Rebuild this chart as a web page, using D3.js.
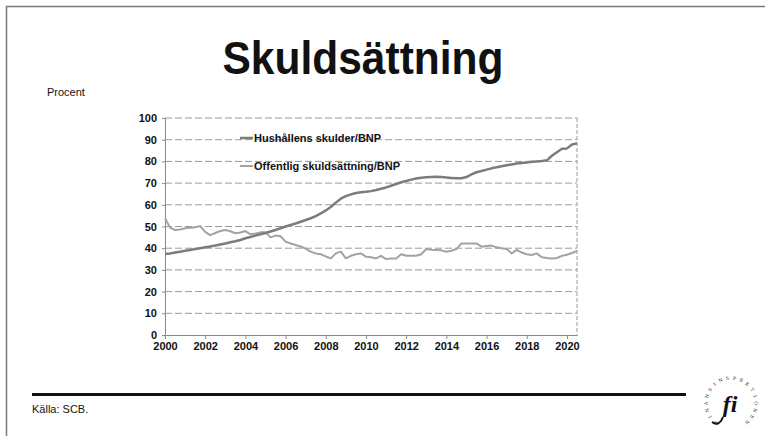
<!DOCTYPE html>
<html><head><meta charset="utf-8">
<script src="https://cdn.jsdelivr.net/npm/d3@7"></script>
<style>html,body{margin:0;padding:0;background:#fff;}svg{display:block;font-family:"Liberation Sans",Arial,sans-serif;}</style>
</head><body>
<script>
// Quarterly observations, 2000 Q1 .. 2020 Q3
const startYear = 2000;
const household = [
 37.3,37.6,38.0,38.4, 38.8,39.2,39.6,40.0, 40.4,40.8,41.2,41.7, 42.2,42.7,43.2,43.8,
 44.6,45.2,45.8,46.4, 47.0,47.7,48.4,49.2, 50.0,50.7,51.4,52.2, 53.0,53.8,54.8,56.0,
 57.4,59.0,61.0,62.8, 64.0,64.8,65.4,65.8, 66.0,66.3,66.8,67.4, 68.0,68.8,69.6,70.4,
 71.0,71.6,72.1,72.5, 72.7,72.8,72.9,72.8, 72.6,72.4,72.2,72.2, 72.8,74.0,75.0,75.6,
 76.2,76.8,77.3,77.8, 78.2,78.6,79.0,79.3, 79.5,79.8,80.0,80.2, 80.5,82.6,84.2,85.8,
 86.0,87.8,88.3];
const publicDebt = [
 53.8,49.5,48.4,48.6, 49.2,49.4,49.6,50.2, 47.5,46.0,47.0,47.9, 48.4,47.8,46.9,47.2,
 47.9,46.4,46.8,47.3, 47.3,45.0,45.8,45.5, 43.0,42.2,41.5,40.8, 39.8,38.4,37.6,37.2,
 36.2,35.3,37.6,38.4, 35.3,36.5,37.2,37.6, 36.1,35.8,35.3,36.5, 35.0,35.2,35.3,37.2,
 36.5,36.5,36.5,37.2, 39.6,39.3,39.2,39.0, 38.4,38.8,39.6,42.2, 42.2,42.2,42.2,40.7,
 41.0,41.2,40.4,40.0, 39.6,37.6,39.2,38.0, 37.2,36.9,37.6,35.8, 35.5,35.3,35.5,36.5,
 37.0,37.8,38.7];
const seriesNames = ["Hushållens skulder/BNP", "Offentlig skuldsättning/BNP"];
const xTicks = [2000,2002,2004,2006,2008,2010,2012,2014,2016,2018,2020];
const yTicks = [0,10,20,30,40,50,60,70,80,90,100];
const title = "Skuldsättning";
const yLabel = "Procent";
const source = "Källa: SCB.";
const logoRing = "FINANSINSPEKTIONEN";

const W = 765, H = 436;
const svg = d3.select("body").append("svg").attr("width", W).attr("height", H);

// slide frame
svg.append("path").attr("d", `M6.5,${H} V6.5 H${W}`).attr("fill","none").attr("stroke","#7a7a7a").attr("stroke-width",1.5);

// title
svg.append("text").attr("x", 363).attr("y", 74).attr("text-anchor","middle")
  .attr("font-size", 46).attr("font-weight","bold").attr("fill","#111")
  .attr("textLength", 281).attr("lengthAdjust","spacingAndGlyphs").text(title);

svg.append("text").attr("x", 47).attr("y", 96).attr("font-size", 11).attr("fill","#111").text(yLabel);

const x = d3.scaleLinear().domain([2000, 2020.5]).range([165, 577]);
const y = d3.scaleLinear().domain([0, 100]).range([335, 118]);

// gridlines
const g = svg.append("g");
g.selectAll("line.grid").data(yTicks.filter(d => d > 0)).join("line")
  .attr("x1", x(2000)).attr("x2", x(2020.5)).attr("y1", d => y(d)).attr("y2", d => y(d))
  .attr("stroke", "#9a9a9a").attr("stroke-width", 1).attr("stroke-dasharray", "7,3");
g.append("line").attr("x1", x(2020.5)).attr("x2", x(2020.5)).attr("y1", y(100)).attr("y2", y(0))
  .attr("stroke", "#9a9a9a").attr("stroke-dasharray", "4,2");

// axes
const yAxis = svg.append("g").attr("transform", `translate(${x(2000)},0)`)
  .call(d3.axisLeft(y).tickValues(yTicks).tickSize(3).tickPadding(5));
yAxis.select(".domain").attr("stroke", "#8a8a8a");
yAxis.selectAll(".tick line").attr("stroke", "#8a8a8a");
yAxis.selectAll("text").attr("font-size", 11).attr("font-weight","bold").attr("fill","#111")
  .attr("font-family", '"Liberation Sans",Arial,sans-serif');

const xAxis = svg.append("g").attr("transform", `translate(0,${y(0)})`)
  .call(d3.axisBottom(x).tickValues(xTicks).tickFormat(d3.format("d")).tickSize(4).tickSizeOuter(0).tickPadding(3));
xAxis.select(".domain").attr("stroke", "#8a8a8a");
xAxis.selectAll(".tick line").attr("stroke", "#8a8a8a");
xAxis.selectAll("text").attr("font-size", 11).attr("font-weight","bold").attr("fill","#111")
  .attr("font-family", '"Liberation Sans",Arial,sans-serif');

// lines
const line = d3.line().x((d, i) => x(startYear + i / 4)).y(d => y(d));
svg.append("path").datum(publicDebt).attr("d", line).attr("fill","none")
  .attr("stroke", "#a3a3a3").attr("stroke-width", 2).attr("stroke-linejoin","round");
svg.append("path").datum(household).attr("d", line).attr("fill","none")
  .attr("stroke", "#7c7c7c").attr("stroke-width", 2.5).attr("stroke-linejoin","round");

// legend
const leg = [{n: seriesNames[0], c: "#7c7c7c", w: 2.5, yy: 138}, {n: seriesNames[1], c: "#a3a3a3", w: 2, yy: 166}];
leg.forEach(l => {
  svg.append("line").attr("x1", 240).attr("x2", 253).attr("y1", l.yy).attr("y2", l.yy)
    .attr("stroke", l.c).attr("stroke-width", l.w);
  svg.append("text").attr("x", 254).attr("y", l.yy + 4).attr("font-size", 11).attr("font-weight","bold")
    .attr("fill","#111").text(l.n);
});

// footer
svg.append("line").attr("x1", 32).attr("x2", 686).attr("y1", 394.5).attr("y2", 394.5)
  .attr("stroke", "#111").attr("stroke-width", 3);
svg.append("text").attr("x", 32).attr("y", 413).attr("font-size", 11).attr("fill","#111").text(source);

// logo: ring of letters + "fi"
const lg = svg.append("g").attr("transform", "translate(731,403)");
const letters = logoRing.split("");
const a0 = -140, a1 = 140, R = 25;
letters.forEach((ch, i) => {
  const a = a0 + (a1 - a0) * i / (letters.length - 1); // degrees, 0 = top
  const rad = a * Math.PI / 180;
  const px = R * Math.sin(rad), py = -R * Math.cos(rad);
  lg.append("text").attr("transform", `translate(${px.toFixed(2)},${py.toFixed(2)}) rotate(${a.toFixed(1)})`)
    .attr("text-anchor","middle").attr("dy", "0.35em")
    .attr("font-size", 4.6).attr("font-family",'"DejaVu Serif",serif').attr("fill","#222").text(ch);
});
lg.append("text").attr("x", -1).attr("y", 9).attr("text-anchor","middle")
  .attr("font-size", 24).attr("font-style","italic").attr("font-weight","bold")
  .attr("font-family",'"Liberation Serif","DejaVu Serif",serif')
  .attr("fill","#111").text("fi");
lg.append("path").attr("d","M -8,14 Q -12,24 -19,19").attr("fill","none").attr("stroke","#111").attr("stroke-width",2);
</script>
</body></html>
